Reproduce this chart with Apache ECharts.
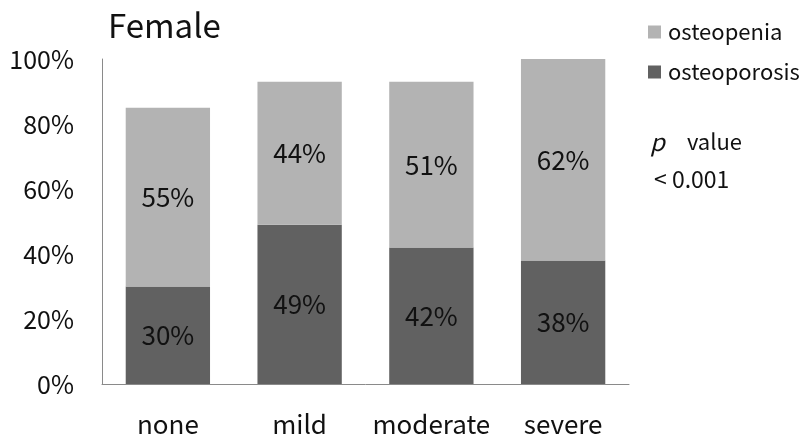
<!DOCTYPE html>
<html><head><meta charset="utf-8">
<script src="https://cdn.jsdelivr.net/npm/echarts@6/dist/echarts.min.js"></script>
<style>html,body{margin:0;padding:0;background:#fff}#c{width:807px;height:441px}</style>
</head><body><div id="c"></div>
<script>
var categories = ['none', 'mild', 'moderate', 'severe'];
var osteoporosis = [30, 49, 42, 38];
var osteopenia = [55, 44, 51, 62];
var yTicks = [0, 20, 40, 60, 80, 100];
var FONT = '"Noto Sans CJK KR", "Noto Sans", sans-serif';
var chart = echarts.init(document.getElementById('c'), null, {renderer: 'canvas'});
var labelCfg = {show: true, position: 'inside', formatter: '{c}%', color: '#111', fontSize: 26, fontFamily: FONT};
chart.setOption({
  animation: false,
  backgroundColor: '#fff',
  title: {text: 'Female', left: 103, top: 4, textStyle: {fontFamily: FONT, fontSize: 33, fontWeight: 'normal', color: '#111'}},
  legend: {
    data: ['osteopenia', 'osteoporosis'], orient: 'vertical', left: 643, top: 16,
    itemWidth: 13, itemHeight: 13, itemGap: 18, icon: 'rect',
    textStyle: {fontFamily: FONT, fontSize: 22, color: '#111', padding: [0, 0, 0, 2]}
  },
  grid: {left: 102, right: 178, top: 59, bottom: 57, containLabel: false},
  xAxis: {
    type: 'category', data: categories,
    axisLine: {lineStyle: {color: '#8a8a8a', width: 1}},
    axisTick: {show: false},
    axisLabel: {color: '#111', fontSize: 26, fontFamily: FONT, margin: 27, interval: 0}
  },
  yAxis: {
    type: 'value', min: 0, max: 100, interval: 20,
    axisLine: {show: true, lineStyle: {color: '#8a8a8a', width: 1}},
    axisTick: {show: false},
    splitLine: {show: false},
    axisLabel: {color: '#111', fontSize: 25, fontFamily: FONT, margin: 28,
      formatter: function (v) { return yTicks.indexOf(v) >= 0 ? v + '%' : ''; }}
  },
  series: [
    {name: 'osteoporosis', type: 'bar', stack: 's', data: osteoporosis, barCategoryGap: '36%',
      itemStyle: {color: '#616161'}, label: labelCfg},
    {name: 'osteopenia', type: 'bar', stack: 's', data: osteopenia, barCategoryGap: '36%',
      itemStyle: {color: '#b3b3b3'}, label: labelCfg}
  ],
  graphic: [
    {type: 'text', left: 650, top: 130, style: {
      text: '{i|p}{s| }value', fontFamily: FONT, fontSize: 22, fill: '#111',
      rich: {i: {fontStyle: 'italic', fontFamily: FONT, fontSize: 24, fill: '#111'},
             s: {width: 22, fontSize: 22}}}},
    {type: 'text', left: 654, top: 168, style: {text: '< 0.001', fontFamily: FONT, fontSize: 23, fill: '#111'}}
  ]
});
</script></body></html>
